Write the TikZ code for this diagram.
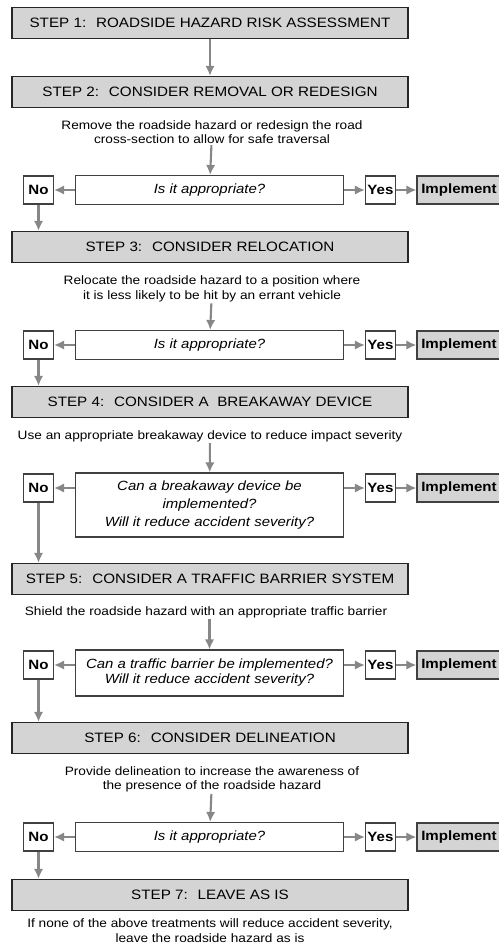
\documentclass[tikz,border=0pt]{standalone}
\usepackage{fontspec}
\setmainfont{Liberation Sans}[FakeStretch=1.12]
\usepackage{tikz}
\usepackage{xcolor}
\definecolor{boxgray}{gray}{0.83}
\definecolor{flowgray}{gray}{0.53}
\tikzset{stepbox/.style={draw=black!85, fill=boxgray, line width=1.2pt,
   minimum width=118.8mm, minimum height=9.3mm, font=\fontsize{11.6}{14}\selectfont},
 note/.style={align=center, inner sep=1pt, font=\fontsize{10.4}{12.4}\selectfont},
 question/.style={draw=black!75, fill=white, line width=1pt, minimum width=80.4mm,
   minimum height=8.7mm, align=center, font=\fontsize{11.4}{12.8}\selectfont\itshape},
 answer/.style={draw=black!75, fill=white, line width=1pt, minimum width=9mm,
   minimum height=8.4mm, inner sep=1pt, font=\fontsize{11.5}{13}\selectfont\bfseries},
 implement/.style={answer, fill=boxgray, minimum width=25.2mm},
 flow/.style={draw=flowgray, line width=1.8pt, -{Latex[length=8.5pt,width=8pt]}},
 }
\usetikzlibrary{arrows.meta}

\begin{document}
\begin{tikzpicture}[x=0.3mm, y=-0.3mm]
        \useasboundingbox (0, 0) rectangle (499, 948);
        \node[stepbox] (s1) at (210, 23) {STEP 1:~ ROADSIDE HAZARD RISK ASSESSMENT};
        \node[stepbox] (s2) at (210, 92) {STEP 2:~ CONSIDER REMOVAL OR REDESIGN};
        \node[note] (t2) at (212, 132) {Remove the roadside hazard or redesign the road\\cross-section to allow for safe traversal};
        \node[question] (q2) at (209.5, 190) {Is it appropriate?};
        \node[answer] (n2) at (38.5, 190) {No};
        \node[answer] (y2) at (380.5, 190) {Yes};
        \node[implement] (i2) at (459, 190) {Implement};

        \node[stepbox] (s3) at (210, 247) {STEP 3:~ CONSIDER RELOCATION};
        \node[note] (t3) at (212, 289) {Relocate the roadside hazard to a position where\\it is less likely to be hit by an errant vehicle};
        \node[question] (q3) at (209.5, 345) {Is it appropriate?};
        \node[answer] (n3) at (38.5, 345) {No};
        \node[answer] (y3) at (380.5, 345) {Yes};
        \node[implement] (i3) at (459, 345) {Implement};

        \node[stepbox] (s4) at (210, 402) {STEP 4:~ CONSIDER A~ BREAKAWAY DEVICE};
        \node[note] (t4) at (210, 436) {Use an appropriate breakaway device to reduce impact severity};
        \node[question, minimum height=19.2mm] (q4) at (209.5, 505) {Can a breakaway device be\\[2.5pt]implemented?\\[2.5pt]Will it reduce accident severity?};
        \node[answer] (n4) at (38.5, 488) {No};
        \node[answer] (y4) at (380.5, 488) {Yes};
        \node[implement] (i4) at (459, 488) {Implement};

        \node[stepbox] (s5) at (210, 579) {STEP 5:~ CONSIDER A TRAFFIC BARRIER SYSTEM};
        \node[note] (t5) at (206, 612) {Shield the roadside hazard with an appropriate traffic barrier};
        \node[question, minimum height=13.8mm] (q5) at (209.5, 673) {Can a traffic barrier be implemented?\\Will it reduce accident severity?};
        \node[answer] (n5) at (38.5, 665) {No};
        \node[answer] (y5) at (380.5, 665) {Yes};
        \node[implement] (i5) at (459, 665) {Implement};

        \node[stepbox] (s6) at (210, 738) {STEP 6:~ CONSIDER DELINEATION};
        \node[note] (t6) at (212, 779.5) {Provide delineation to increase the awareness of\\the presence of the roadside hazard};
        \node[question] (q6) at (209.5, 837) {Is it appropriate?};
        \node[answer] (n6) at (38.5, 837) {No};
        \node[answer] (y6) at (380.5, 837) {Yes};
        \node[implement] (i6) at (459, 837) {Implement};

        \node[stepbox] (s7) at (210, 895) {STEP 7:~ LEAVE AS IS};
        \node[note] (t7) at (210, 930.5) {If none of the above treatments will reduce accident severity,\\leave the roadside hazard as is};

        \draw[flow] (s1) -- (s2);
        \draw[flow] (t2) -- (q2);
        \draw[flow] (q2) -- (n2);
        \draw[flow] (q2) -- (y2);
        \draw[flow] (y2) -- (i2);
        \draw[flow] (n2) -- (n2.south |- s3.north);
        \draw[flow] (t3) -- (q3);
        \draw[flow] (q3) -- (n3);
        \draw[flow] (q3) -- (y3);
        \draw[flow] (y3) -- (i3);
        \draw[flow] (n3) -- (n3.south |- s4.north);
        \draw[flow] (t4) -- (q4);
        \draw[flow] (q4.west |- n4) -- (n4);
        \draw[flow] (q4.east |- y4) -- (y4);
        \draw[flow] (y4) -- (i4);
        \draw[flow] (n4) -- (n4.south |- s5.north);
        \draw[flow] (t5.south -| q5.north) -- (q5);
        \draw[flow] (q5.west |- n5) -- (n5);
        \draw[flow] (q5.east |- y5) -- (y5);
        \draw[flow] (y5) -- (i5);
        \draw[flow] (n5) -- (n5.south |- s6.north);
        \draw[flow] (t6) -- (q6);
        \draw[flow] (q6) -- (n6);
        \draw[flow] (q6) -- (y6);
        \draw[flow] (y6) -- (i6);
        \draw[flow] (n6) -- (n6.south |- s7.north);
    \end{tikzpicture}
\end{document}
